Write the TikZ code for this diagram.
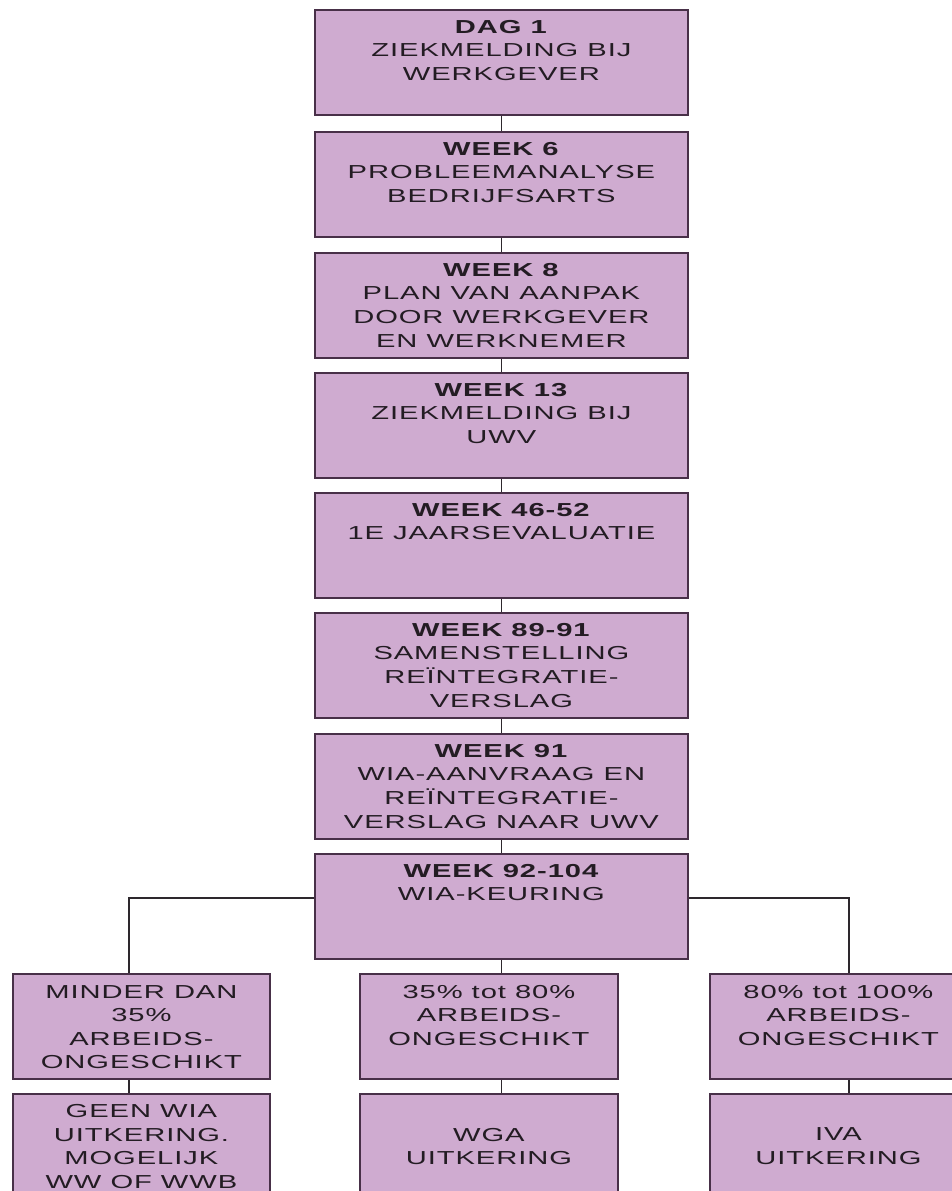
\documentclass[tikz,border=0pt]{standalone}
\usepackage{fontspec}
\setmainfont{Liberation Sans}[FakeStretch=1.55,LetterSpace=5]
\definecolor{boxfill}{RGB}{207,171,208}
\definecolor{boxline}{RGB}{72,48,72}
\definecolor{conline}{RGB}{45,40,45}
\definecolor{txtcol}{RGB}{35,28,35}
\tikzset{
  stagebox/.style={draw=boxline, fill=boxfill, line width=1.8pt, inner sep=0pt, anchor=north west},
  mainbox/.style={stagebox, minimum width=373pt, minimum height=105pt},
  subbox/.style={stagebox, minimum width=257pt, minimum height=105pt},
  boxtext/.style={align=center, inner sep=0pt, text=txtcol, font=\fontsize{18.8}{23.6}\selectfont},
  conn/.style={draw=conline, line width=1.8pt}
}
\begin{document}
\begin{tikzpicture}[x=1pt,y=-1pt]
\useasboundingbox (0,0) rectangle (952,1191);
\clip (0,0) rectangle (952,1191);
% main column
\node[mainbox] (b1) at (314,9) {};
\node[mainbox] (b2) at (314,131) {};
\node[mainbox] (b3) at (314,252) {};
\node[mainbox] (b4) at (314,372) {};
\node[mainbox] (b5) at (314,492) {};
\node[mainbox] (b6) at (314,612) {};
\node[mainbox] (b7) at (314,733) {};
\node[mainbox] (b8) at (314,853) {};
% branch rows
\node[subbox] (l1) at (12,973) {};
\node[subbox, minimum width=258pt] (m1) at (359,973) {};
\node[subbox] (r1) at (709,973) {};
\node[subbox] (l2) at (12,1093) {};
\node[subbox, minimum width=258pt] (m2) at (359,1093) {};
\node[subbox] (r2) at (709,1093) {};
% texts
\node[boxtext, anchor=north] (t1) at ([yshift=-11pt]b1.north) {\textbf{DAG 1}\\ZIEKMELDING BIJ\\WERKGEVER};
\node[boxtext, anchor=north] (t2) at ([yshift=-11pt]b2.north) {\textbf{WEEK 6}\\PROBLEEMANALYSE\\BEDRIJFSARTS};
\node[boxtext, anchor=north] (t3) at ([yshift=-11pt]b3.north) {\textbf{WEEK 8}\\PLAN VAN AANPAK\\DOOR WERKGEVER\\EN WERKNEMER};
\node[boxtext, anchor=north] (t4) at ([yshift=-11pt]b4.north) {\textbf{WEEK 13}\\ZIEKMELDING BIJ\\UWV};
\node[boxtext, anchor=north] (t5) at ([yshift=-11pt]b5.north) {\textbf{WEEK 46-52}\\1E JAARSEVALUATIE};
\node[boxtext, anchor=north] (t6) at ([yshift=-11pt]b6.north) {\textbf{WEEK 89-91}\\SAMENSTELLING\\REÏNTEGRATIE-\\VERSLAG};
\node[boxtext, anchor=north] (t7) at ([yshift=-11pt]b7.north) {\textbf{WEEK 91}\\WIA-AANVRAAG EN\\REÏNTEGRATIE-\\VERSLAG NAAR UWV};
\node[boxtext, anchor=north] (t8) at ([yshift=-11pt]b8.north) {\textbf{WEEK 92-104}\\WIA-KEURING};
\node[boxtext, anchor=north] (tl1) at ([yshift=-12pt]l1.north) {MINDER DAN\\35\%\\ARBEIDS-\\ONGESCHIKT};
\node[boxtext, anchor=north] (tm1) at ([yshift=-12pt]m1.north) {35\% tot 80\%\\ARBEIDS-\\ONGESCHIKT};
\node[boxtext, anchor=north] (tr1) at ([yshift=-12pt]r1.north) {80\% tot 100\%\\ARBEIDS-\\ONGESCHIKT};
\node[boxtext] (tl2) at (l2.center) {GEEN WIA\\UITKERING.\\MOGELIJK\\WW OF WWB};
\node[boxtext] (tm2) at (m2.center) {WGA\\UITKERING};
\node[boxtext] (tr2) at (r2.center) {IVA\\UITKERING};
% connectors
\draw[conn] (b1.south) -- (b2.north);
\draw[conn] (b2.south) -- (b3.north);
\draw[conn] (b3.south) -- (b4.north);
\draw[conn] (b4.south) -- (b5.north);
\draw[conn] (b5.south) -- (b6.north);
\draw[conn] (b6.south) -- (b7.north);
\draw[conn] (b7.south) -- (b8.north);
\draw[conn] (b8.south) -- (b8.south |- m1.north);
\draw[conn] ([yshift=8.5pt]b8.west) -| ([xshift=-12.5pt]l1.north);
\draw[conn] ([yshift=8.5pt]b8.east) -| ([xshift=10.5pt]r1.north);
\draw[conn] ([xshift=-12.5pt]l1.south) -- ([xshift=-12.5pt]l2.north);
\draw[conn] (m1.south -| b8.south) -- (m2.north -| b8.south);
\draw[conn] ([xshift=10.5pt]r1.south) -- ([xshift=10.5pt]r2.north);
\end{tikzpicture}
\end{document}
